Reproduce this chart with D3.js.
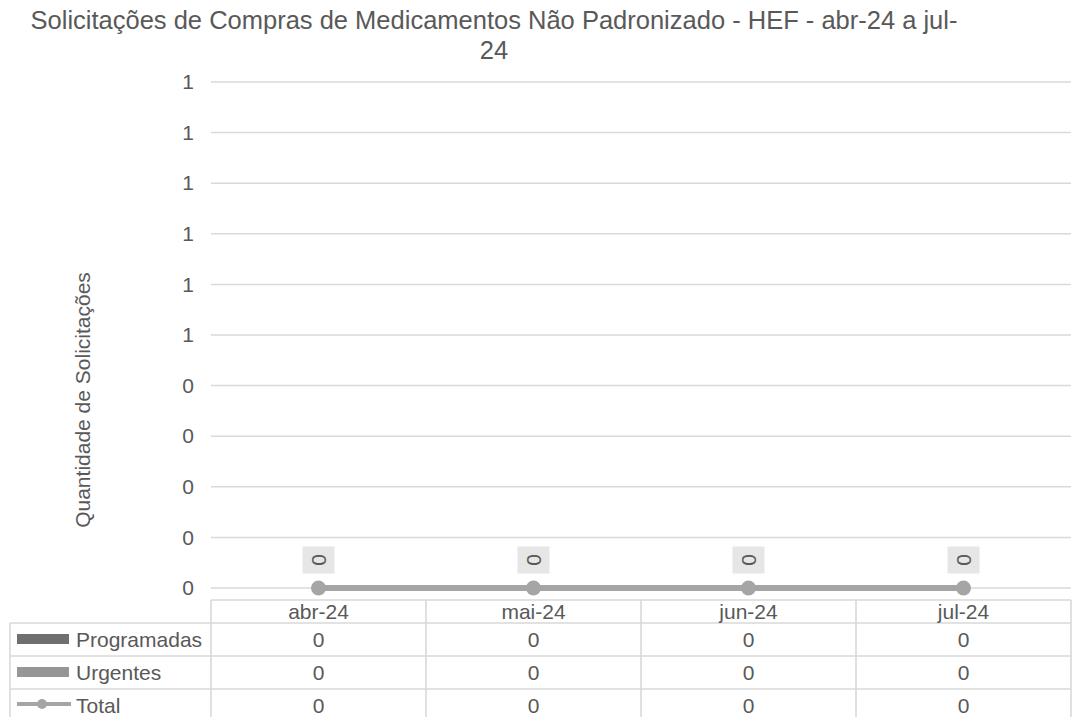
<!DOCTYPE html>
<html>
<head>
<meta charset="utf-8">
<script src="https://cdn.jsdelivr.net/npm/d3@7"></script>
<style>
  html, body { margin: 0; padding: 0; background: #ffffff; }
  svg text { font-family: "Liberation Sans", Arial, sans-serif; fill: #595959; }
</style>
</head>
<body>
<svg id="chart" width="1074" height="717"></svg>
<script>
// Monthly purchase requests for non-standard medicines
const categories = ["abr-24", "mai-24", "jun-24", "jul-24"];
const programadas = [0, 0, 0, 0];
const urgentes = [0, 0, 0, 0];
const total = [0, 0, 0, 0];
const yTicks = [0, 0.1, 0.2, 0.3, 0.4, 0.5, 0.6, 0.7, 0.8, 0.9, 1];
const titleLines = ["Solicitações de Compras de Medicamentos Não Padronizado - HEF - abr-24 a jul-", "24"];
const yAxisTitle = "Quantidade de Solicitações";

const seriesInfo = [
  { name: "Programadas", values: programadas, type: "bar", color: "#6f6f6f" },
  { name: "Urgentes", values: urgentes, type: "bar", color: "#969696" },
  { name: "Total", values: total, type: "line", color: "#a5a5a5" }
];

const svg = d3.select("#chart");
const gridColor = "#d9d9d9";
const textColor = "#595959";
const labelSize = "21px";

const plot = { left: 211, right: 1071, top: 82, bottom: 588 };
const x = d3.scaleBand().domain(categories).range([plot.left, plot.right]).padding(0);
const y = d3.scaleLinear().domain([0, 1]).range([plot.bottom, plot.top]);

// Title
const title = svg.append("text")
  .attr("x", 494).attr("y", 29)
  .attr("text-anchor", "middle")
  .style("font-size", "25.5px");
titleLines.forEach((line, i) => {
  title.append("tspan").attr("x", 494).attr("y", 29 + i * 30).text(line);
});

// Horizontal gridlines
svg.append("g").selectAll("line").data(yTicks).join("line")
  .attr("x1", plot.left).attr("x2", plot.right)
  .attr("y1", d => y(d)).attr("y2", d => y(d))
  .attr("stroke", gridColor).attr("stroke-width", 1.5);

// Y axis labels
const yAxis = d3.axisLeft(y).tickValues(yTicks).tickFormat(d => String(Math.round(d))).tickSize(0).tickPadding(0);
const yAxisG = svg.append("g").attr("transform", `translate(${194},0)`).call(yAxis);
yAxisG.select(".domain").remove();
yAxisG.selectAll("text")
  .style("font-size", labelSize)
  .style("font-family", "'Liberation Sans', Arial, sans-serif")
  .attr("fill", textColor);

// Y axis title
svg.append("text")
  .attr("transform", `translate(90,400) rotate(-90)`)
  .attr("text-anchor", "middle")
  .style("font-size", labelSize)
  .text(yAxisTitle);

// Stacked bars (Programadas + Urgentes)
const barW = x.bandwidth() * 0.5;
const stackData = categories.map((c, i) => ({ cat: c, Programadas: programadas[i], Urgentes: urgentes[i] }));
const stack = d3.stack().keys(["Programadas", "Urgentes"])(stackData);
svg.append("g").selectAll("g").data(stack).join("g")
  .attr("fill", (d, i) => seriesInfo[i].color)
  .selectAll("rect").data(d => d).join("rect")
  .attr("x", d => x(d.data.cat) + (x.bandwidth() - barW) / 2)
  .attr("width", barW)
  .attr("y", d => y(d[1]))
  .attr("height", d => y(d[0]) - y(d[1]));

// Total line with markers
const cx = c => x(c) + x.bandwidth() / 2;
const line = d3.line().x((d, i) => cx(categories[i])).y(d => y(d));
svg.append("path").datum(total)
  .attr("d", line)
  .attr("fill", "none")
  .attr("stroke", "#a5a5a5")
  .attr("stroke-width", 6)
  .attr("stroke-linejoin", "round");
svg.append("g").selectAll("circle").data(total).join("circle")
  .attr("cx", (d, i) => cx(categories[i]))
  .attr("cy", d => y(d))
  .attr("r", 7.5)
  .attr("fill", "#a5a5a5");

// Data labels for Total (rotated, on a light box)
const labels = svg.append("g").selectAll("g").data(total).join("g")
  .attr("transform", (d, i) => `translate(${cx(categories[i])},${y(d) - 28})`);
labels.append("rect")
  .attr("x", -16).attr("y", -13.5).attr("width", 32).attr("height", 27)
  .attr("fill", "#e7e6e6");
labels.append("text")
  .attr("transform", "rotate(-90)")
  .attr("text-anchor", "middle")
  .attr("dy", "0.35em")
  .style("font-size", labelSize)
  .text(d => d);

// Data table below the plot
const table = svg.append("g");
const headerTop = 600, headerBottom = 623, rowH = 33, legendLeft = 10;
const rowTops = seriesInfo.map((s, i) => headerBottom + i * rowH);
const tableBottom = headerBottom + seriesInfo.length * rowH;
const colEdges = categories.map(c => x(c)).concat([plot.right]);

// Header row border and column lines
table.append("line").attr("x1", plot.left).attr("x2", plot.right)
  .attr("y1", headerTop).attr("y2", headerTop);
colEdges.forEach(xe => {
  table.append("line").attr("x1", xe).attr("x2", xe)
    .attr("y1", headerTop).attr("y2", tableBottom);
});
// Row lines spanning legend column
rowTops.forEach(t => {
  table.append("line").attr("x1", legendLeft).attr("x2", plot.right)
    .attr("y1", t).attr("y2", t);
});
table.append("line").attr("x1", legendLeft).attr("x2", legendLeft)
  .attr("y1", headerBottom).attr("y2", tableBottom);
table.selectAll("line").attr("stroke", gridColor).attr("stroke-width", 1.6);

// Category header labels
table.append("g").selectAll("text").data(categories).join("text")
  .attr("x", d => cx(d)).attr("y", headerTop + 19)
  .attr("text-anchor", "middle")
  .style("font-size", labelSize)
  .text(d => d);

// Series rows: legend key, name and values
seriesInfo.forEach((s, i) => {
  const top = rowTops[i];
  const g = table.append("g");
  if (s.type === "bar") {
    g.append("rect").attr("x", 17).attr("y", top + 11).attr("width", 52).attr("height", 10)
      .attr("fill", s.color);
  } else {
    g.append("line").attr("x1", 17).attr("x2", 71).attr("y1", top + 15).attr("y2", top + 15)
      .attr("stroke", s.color).attr("stroke-width", 4);
    g.append("circle").attr("cx", 42).attr("cy", top + 15).attr("r", 5).attr("fill", s.color);
  }
  g.append("text").attr("x", 76).attr("y", top + 24)
    .style("font-size", labelSize).text(s.name);
  g.selectAll("text.val").data(s.values).join("text")
    .attr("class", "val")
    .attr("x", (d, j) => cx(categories[j])).attr("y", top + 24)
    .attr("text-anchor", "middle")
    .style("font-size", labelSize)
    .text(d => d);
});
</script>
</body>
</html>
